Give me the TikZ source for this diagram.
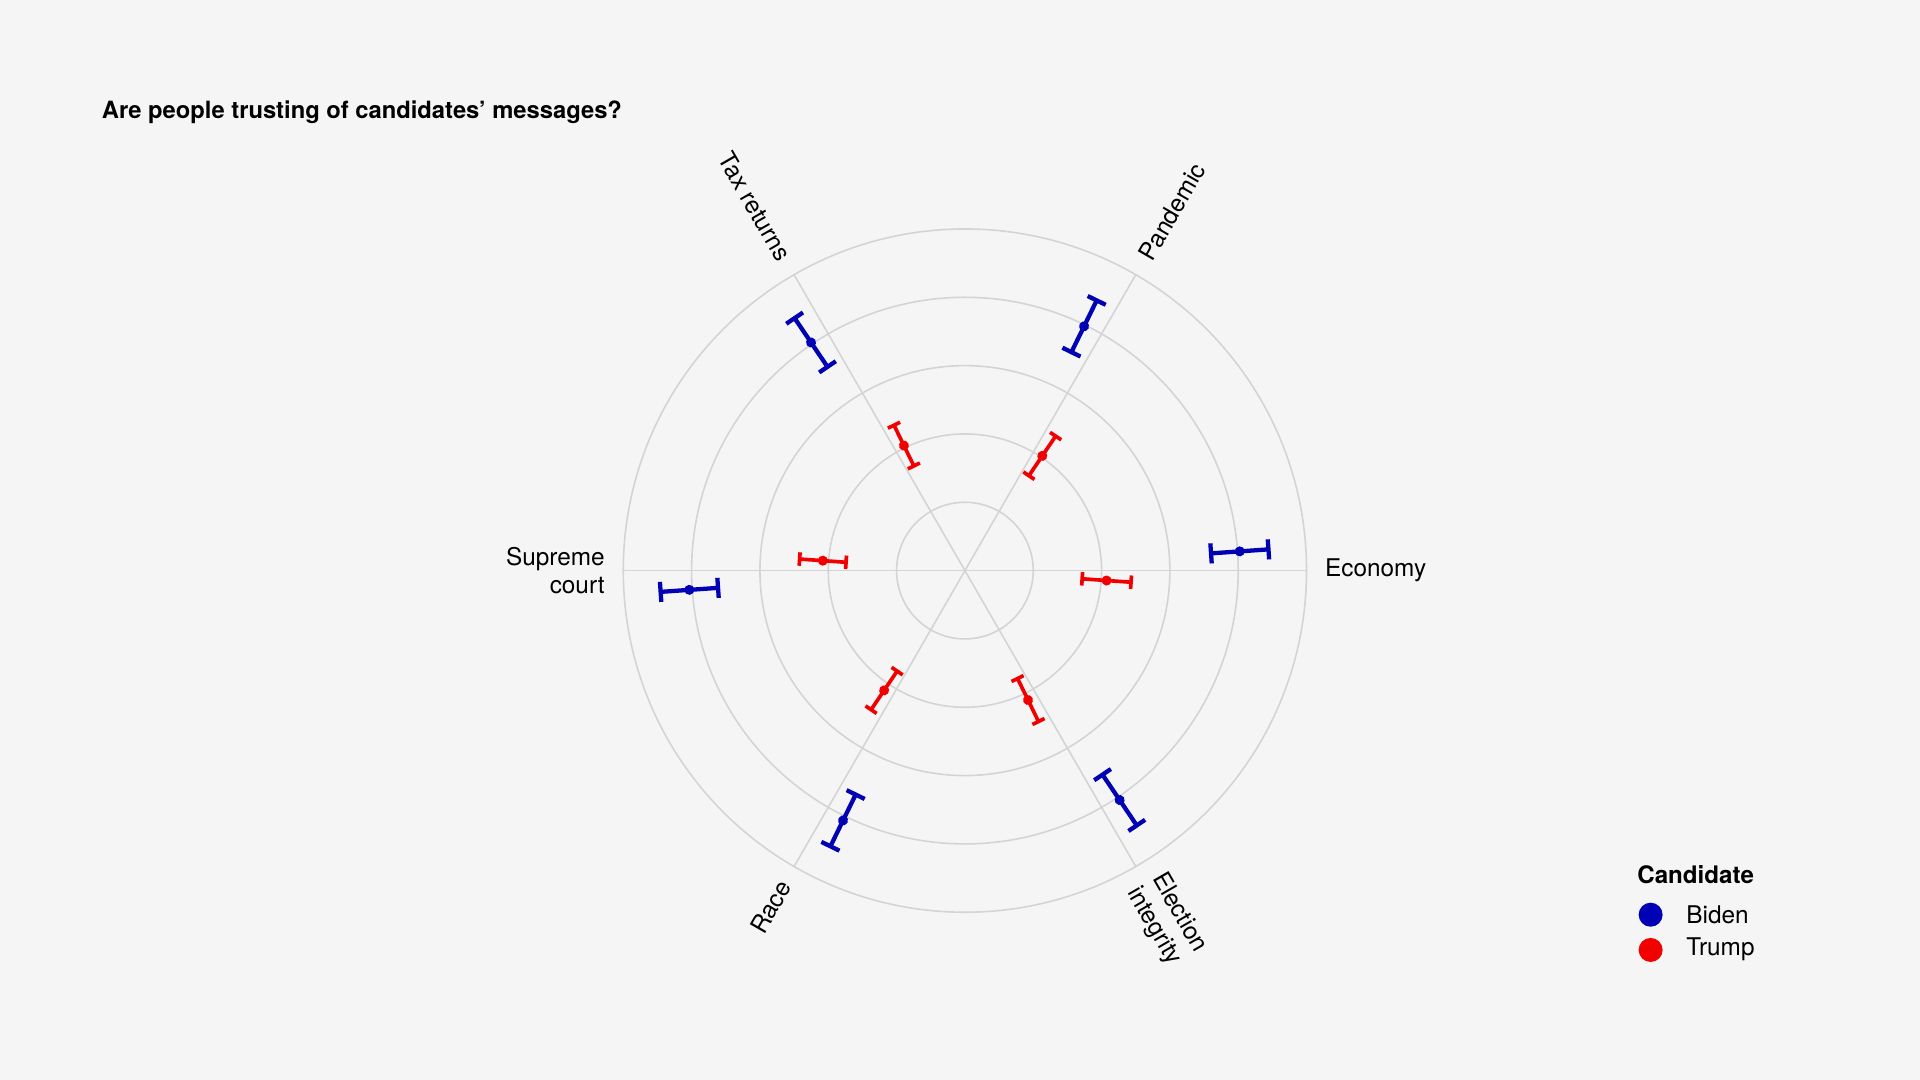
\documentclass[tikz,border=0pt]{standalone}
\usepackage{fontspec}
\setmainfont{TeX Gyre Heros}
\definecolor{bgc}{HTML}{F5F5F5}
\definecolor{gridc}{HTML}{D4D4D4}
\definecolor{bidenc}{HTML}{0000B4}
\definecolor{trumpc}{HTML}{F20000}
\tikzset{
  gridline/.style={draw=gridc, line width=1.3pt},
  lbl/.style={font=\fontsize{19.9}{23.6}\selectfont, inner sep=0pt, text=black},
  bidenbar/.style={draw=bidenc, line width=3.5pt},
  trumpbar/.style={draw=trumpc, line width=3.0pt},
}
% #1 angle, #2 radius, #3 half error, #4 half cap, #5 style, #6 colour
\newcommand{\errbar}[6]{%
  \begin{scope}[shift={(788,416)}, rotate=#1]
    \draw[#5] ({#2-#3},0) -- ({#2+#3},0);
    \draw[#5] ({#2-#3},-#4) -- ({#2-#3},#4);
    \draw[#5] ({#2+#3},-#4) -- ({#2+#3},#4);
    \fill[#6] (#2,0) circle (4.1);
  \end{scope}}
\begin{document}
\begin{tikzpicture}[x=1pt,y=1pt]
  \fill[bgc] (0,0) rectangle (1568,882);
  \useasboundingbox (0,0) rectangle (1568,882);
  \coordinate (C) at (788,416);
  % grid
  \foreach \k in {1,...,5} \draw[gridline] (C) circle ({55.8*\k});
  \foreach \a in {0,60,...,300} \draw[gridline] (C) -- ([shift={(\a:279)}]C);
  % Biden
  \errbar{4}{225}{23.5}{8.2}{bidenbar}{bidenc}
  \errbar{64}{222}{23.5}{8.2}{bidenbar}{bidenc}
  \errbar{124}{224.7}{24}{8.2}{bidenbar}{bidenc}
  \errbar{184}{225.6}{23.5}{8.2}{bidenbar}{bidenc}
  \errbar{244}{227}{23.5}{8.2}{bidenbar}{bidenc}
  \errbar{304}{226}{25}{8.2}{bidenbar}{bidenc}
  % Trump
  \errbar{-4}{116}{20}{5.5}{trumpbar}{trumpc}
  \errbar{56}{113}{19.5}{5.5}{trumpbar}{trumpc}
  \errbar{116}{113.6}{18.5}{5.5}{trumpbar}{trumpc}
  \errbar{176}{116.3}{19}{5.5}{trumpbar}{trumpc}
  \errbar{236}{118}{19}{5.5}{trumpbar}{trumpc}
  \errbar{296}{117.6}{19.5}{5.5}{trumpbar}{trumpc}
  % axis labels
  \node[lbl, anchor=west] (econ) at ([shift={(0:294)}]C) {Economy};
  \node[lbl, anchor=west, rotate=60] (pand) at ([shift={(60:294)}]C) {Pandemic};
  \node[lbl, anchor=east, rotate=-60] (tax) at ([shift={(120:294)}]C) {Tax returns};
  \node[lbl, anchor=east, align=right] (sup) at ([shift={(180:294)}]C) {Supreme\\court};
  \node[lbl, anchor=east, rotate=60] (race) at ([shift={(240:294)}]C) {Race};
  \node[lbl, anchor=west, rotate=-60, align=left] (elec) at ([shift={(300:294)}]C) {Election\\integrity};
  % title
  \node[anchor=base west, inner sep=0pt, font=\bfseries\fontsize{19.4}{23}\selectfont] (title) at (83,785) {Are people trusting of candidates’ messages?};
  % legend
  \node[anchor=base west, inner sep=0pt, font=\bfseries\fontsize{19.7}{23}\selectfont] (legtitle) at (1337,160.6) {Candidate};
  \fill[bidenc] (1348,135) circle (9.8);
  \fill[trumpc] (1348,106.2) circle (9.8);
  \node[lbl, anchor=base west] (lbiden) at (1377,127.4) {Biden};
  \node[lbl, anchor=base west] (ltrump) at (1377,101.3) {Trump};
\end{tikzpicture}
\end{document}
